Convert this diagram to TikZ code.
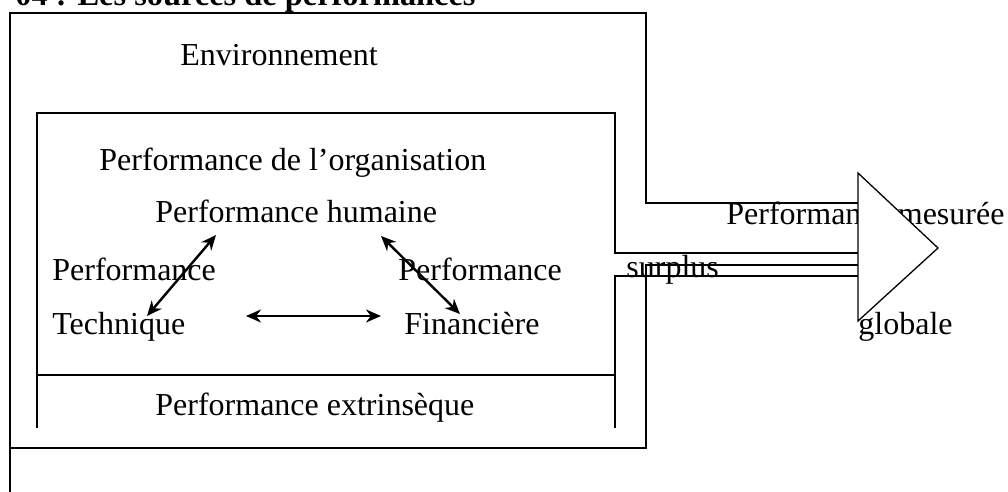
\documentclass[tikz,border=0pt]{standalone}
\usepackage{fontspec}
\setmainfont{Liberation Serif}
\usetikzlibrary{arrows.meta,positioning}
\tikzset{
  lbl/.style={anchor=base west,inner sep=0pt,font=\fontsize{16}{19}\selectfont},
  frame/.style={line width=0.65pt},
  arr/.style={{Stealth[length=7.5pt,width=6.5pt]}-{Stealth[length=7.5pt,width=6.5pt]},line width=1.2pt},
}

\begin{document}
\begin{tikzpicture}[x=0.5pt,y=-0.5pt]
        \useasboundingbox (0,0) rectangle (1008,492);
        \clip (0,0) rectangle (1008,492);
        % title, cut at the top of the page
        \node[lbl,anchor=base east,font=\fontsize{16.2}{19}\selectfont\bfseries]
              (title) at (476,6) {N° 04 : Les sources de performances};
        % outer frame (environnement)
        \draw[frame] (10,492)--(10,13)--(646,13)--(646,203)--(858,203);
        \draw[frame] (858,265)--(646,265)--(646,448)--(10,448);
        % inner frame (organisation)
        \draw[frame] (37,428)--(37,113)--(615,113)--(615,253)--(858,253);
        \draw[frame] (858,276)--(615,276)--(615,428);
        \draw[frame] (37,375)--(615,375);
        % labels
        \node[lbl] (env) at (180,66) {Environnement};
        \node[lbl] (org) at (99,170) {Performance de l’organisation};
        \node[lbl] (hum) at (155,222) {Performance humaine};
        \node[lbl] (techA) at (52,280) {Performance};
        \node[lbl] (techB) at (52,335) {Technique};
        \node[lbl] (finA) at (398,280) {Performance};
        \node[lbl] (finB) at (404,335) {Financière};
        \node[lbl] (extr) at (155,415) {Performance extrinsèque};
        \node[lbl] (surplus) at (626,278) {surplus};
        \node[lbl] (mes) at (726,225) {Performance mesurée};
        \node[lbl] (glob) at (858,335) {globale};
        % output arrow
        \draw[frame,fill=white] (858,173)--(938,248)--(858,321)--cycle;
        % links between the three performances
        \coordinate (t1) at (147,316);
        \coordinate (h1) at (216,235);
        \coordinate (t2) at (246,316);
        \coordinate (f2) at (381,316);
        \coordinate (h3) at (381,236);
        \coordinate (f3) at (460,314);
        \draw[arr] (t1)--(h1);
        \draw[arr] (t2)--(f2);
        \draw[arr] (h3)--(f3);
      \end{tikzpicture}
\end{document}
